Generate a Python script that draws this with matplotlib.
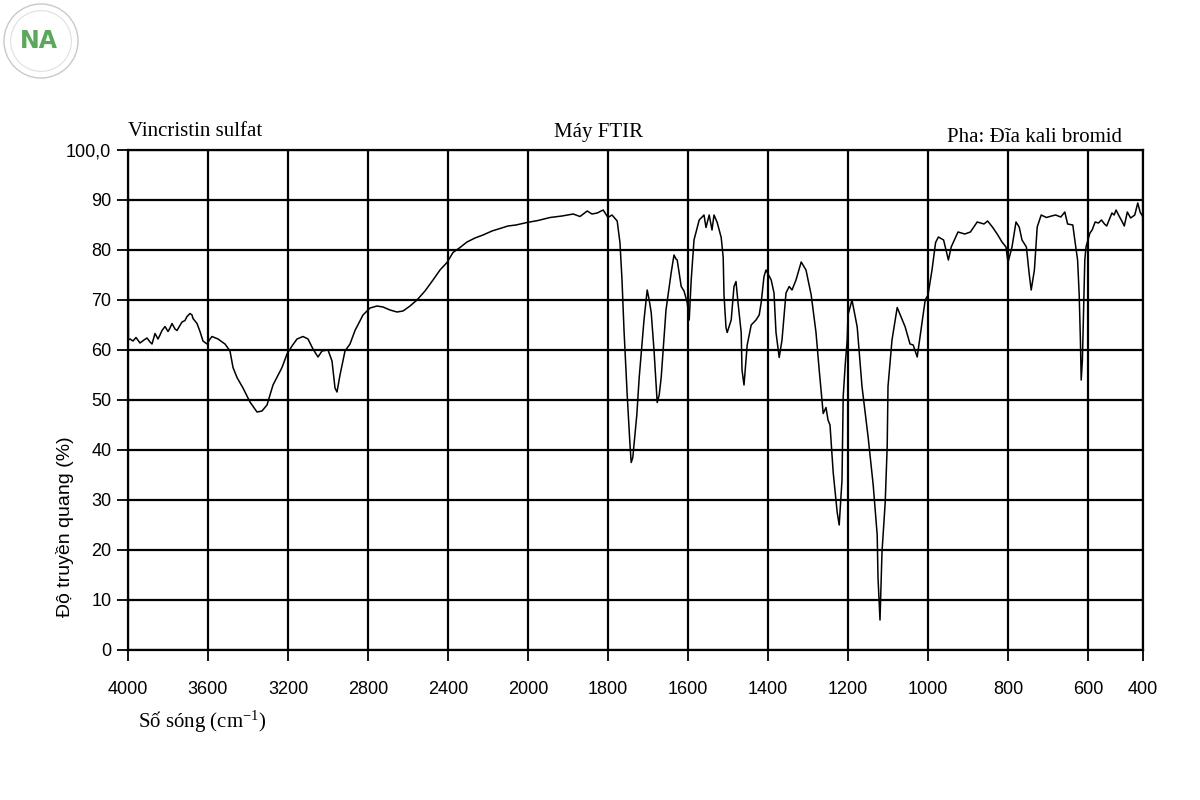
import numpy as np
import matplotlib
matplotlib.use("Agg")
import matplotlib.pyplot as plt
from matplotlib.patches import Circle

# FTIR spectrum (wavenumber cm-1, transmittance %)
wn = [4000, 3998, 3990, 3975, 3960, 3940, 3920, 3905, 3890, 3880,
      3865, 3850, 3840, 3830, 3815, 3800, 3790, 3780, 3765, 3755,
      3740, 3730, 3715, 3705, 3690, 3680, 3675, 3665, 3655, 3640,
      3625, 3605, 3590, 3580, 3550, 3515, 3490, 3475, 3455, 3425,
      3390, 3355, 3330, 3305, 3275, 3230, 3205, 3180, 3155, 3125,
      3100, 3075, 3050, 3030, 3000, 2980, 2965, 2955, 2940, 2915,
      2890, 2865, 2825, 2790, 2755, 2725, 2690, 2655, 2625, 2590,
      2555, 2515, 2475, 2440, 2405, 2375, 2340, 2305, 2265, 2225,
      2180, 2140, 2100, 2060, 2005, 1975, 1945, 1915, 1887, 1870,
      1852, 1840, 1827, 1812, 1800, 1790, 1777, 1770, 1765, 1760,
      1752, 1745, 1742, 1738, 1735, 1728, 1722, 1710, 1702, 1697,
      1692, 1685, 1677, 1672, 1667, 1655, 1642, 1635, 1630, 1627,
      1617, 1610, 1602, 1597, 1592, 1585, 1572, 1560, 1555, 1547,
      1540, 1535, 1527, 1517, 1512, 1510, 1505, 1502, 1492, 1485,
      1480, 1475, 1467, 1465, 1460, 1452, 1442, 1430, 1422, 1417,
      1410, 1405, 1392, 1385, 1380, 1372, 1365, 1355, 1347, 1340,
      1330, 1317, 1305, 1292, 1280, 1272, 1262, 1255, 1250, 1245,
      1237, 1227, 1222, 1215, 1212, 1207, 1202, 1200, 1190, 1177,
      1165, 1150, 1137, 1127, 1125, 1120, 1115, 1107, 1102, 1100,
      1090, 1077, 1057, 1045, 1037, 1027, 1020, 1007, 1000, 990,
      981, 974, 961, 949, 942, 925, 908, 894, 877, 860,
      851, 839, 827, 815, 805, 800, 790, 780, 772, 765,
      754, 747, 742, 734, 727, 717, 704, 691, 681, 668,
      658, 651, 638, 633, 626, 622, 619, 617, 614, 611,
      608, 605, 600, 593, 585, 574, 562, 551, 540, 532,
      522, 513, 505, 498, 487, 477, 468, 457, 445, 430,
      419, 410, 404, 400]
tr = [96, 62, 62.2, 61.8, 62.5, 61.4, 62.0, 62.4, 61.6, 61.2,
      63.3, 62.2, 63.0, 63.9, 64.7, 63.7, 64.4, 65.3, 64.2, 63.9,
      64.9, 65.6, 65.9, 66.7, 67.3, 67.0, 66.3, 65.8, 65.3, 63.7,
      61.8, 61.2, 62.2, 62.7, 62.2, 61.2, 59.8, 56.5, 54.5, 52.4,
      49.6, 47.6, 47.8, 49.0, 53.0, 56.5, 59.2, 60.8, 62.2, 62.7,
      62.2, 60.2, 58.6, 59.8, 60.0, 57.8, 52.4, 51.6, 55.0, 59.8,
      61.2, 63.9, 67.0, 68.4, 68.8, 68.6, 68.0, 67.6, 67.8, 68.8,
      70.0, 71.8, 74.0, 76.0, 77.5, 79.5, 80.5, 81.6, 82.4, 83.0,
      83.8, 84.3, 84.8, 85.0, 85.5, 85.9, 86.5, 86.8, 87.2, 86.7,
      87.8, 87.2, 87.4, 88.0, 86.5, 87.0, 85.8, 81.4, 74.0, 64.0,
      51.0, 41.0, 37.5, 38.5, 41.0, 47.0, 54.5, 66.0, 72.0, 70.0,
      67.5, 60.0, 49.5, 51.0, 54.5, 68.0, 75.5, 79.0, 78.2, 78.0,
      72.7, 71.8, 69.5, 66.0, 74.0, 82.0, 86.0, 87.0, 84.5, 87.0,
      84.0, 87.0, 85.5, 82.5, 78.5, 71.0, 64.5, 63.5, 66.0, 72.7,
      73.7, 69.5, 63.5, 56.0, 53.0, 61.0, 65.0, 66.0, 67.0, 69.5,
      74.7, 76.0, 74.0, 71.4, 63.5, 58.5, 62.0, 71.4, 72.7, 72.0,
      74.0, 77.6, 76.0, 71.0, 63.5, 56.0, 47.3, 48.5, 46.0, 45.0,
      35.5, 27.5, 25.0, 34.0, 50.7, 57.0, 62.0, 67.0, 70.0, 64.6,
      52.7, 42.8, 33.0, 23.0, 14.5, 6.0, 19.6, 29.5, 40.8, 52.7,
      62.0, 68.5, 64.6, 61.2, 61.0, 58.6, 62.6, 70.0, 71.0, 76.0,
      81.5, 82.6, 82.0, 78.0, 80.6, 83.6, 83.2, 83.6, 85.6, 85.2,
      85.8, 84.6, 83.2, 81.6, 80.6, 77.5, 80.6, 85.6, 84.6, 82.0,
      80.6, 75.2, 72.0, 76.0, 84.6, 87.0, 86.5, 86.8, 87.0, 86.6,
      87.6, 85.2, 85.0, 82.0, 78.0, 71.0, 62.0, 54.0, 58.0, 68.0,
      78.0, 80.6, 82.0, 83.4, 84.0, 85.6, 85.4, 86.0, 85.2, 84.8,
      86.2, 87.4, 87.0, 88.0, 86.8, 85.8, 84.8, 87.6, 86.4, 87.0,
      89.4, 87.5, 87.0, 86.5]

xticks = [4000, 3600, 3200, 2800, 2400, 2000, 1800, 1600, 1400, 1200, 1000, 800, 600, 400]
yticks = [0, 10, 20, 30, 40, 50, 60, 70, 80, 90, 100]
ylabels = ["0", "10", "20", "30", "40", "50", "60", "70", "80", "90", "100,0"]

# chart paper: half scale above 2000, last segment squeezed
brk_w = [400, 600, 2000, 4000]
brk_p = [0, 55, 615, 1015]


def fwd(w):
    return np.interp(w, brk_w, brk_p)


def inv(p):
    return np.interp(p, brk_p, brk_w)


plt.rcParams["mathtext.fontset"] = "custom"
plt.rcParams["mathtext.rm"] = "Liberation Serif"
plt.rcParams["mathtext.default"] = "rm"

sans = ["Liberation Sans Narrow", "Liberation Sans", "DejaVu Sans"]
serif = ["Liberation Serif", "DejaVu Serif"]

fig = plt.figure(figsize=(12, 8), dpi=100)
ax = fig.add_axes([128 / 1200, 1 - 650 / 800, (1143 - 128) / 1200, 500 / 800])
ax.set_xscale("function", functions=(fwd, inv))
ax.plot(wn, tr, color="black", lw=1.1)
ax.set_xlim(4000, 400)
ax.set_ylim(0, 100)

ax.set_xticks(xticks)
ax.set_xticklabels([str(t) for t in xticks], family=sans, fontsize=13)
ax.set_yticks(yticks)
ax.set_yticklabels(ylabels, family=sans, fontsize=13)
ax.minorticks_off()
ax.tick_params(direction="out", length=8, width=1.3, pad=14)
ax.tick_params(axis="y", pad=4)
ax.grid(True, color="black", lw=1.6)
for s in ax.spines.values():
    s.set_linewidth(1.6)

fig.text(128 / 1200, 1 - 131 / 800, "Vincristin sulfat", family=serif, fontsize=15, va="center")
fig.text(598 / 1200, 1 - 133 / 800, "Máy FTIR", family=serif, fontsize=15, va="center", ha="center")
fig.text(1122 / 1200, 1 - 137 / 800, "Pha: Đĩa kali bromid", family=serif, fontsize=15, va="center", ha="right")
fig.text(65 / 1200, 1 - 527 / 800, "Độ truyền quang (%)", family=sans, fontsize=14,
         rotation=90, va="center", ha="center")
fig.text(138 / 1200, 1 - 722 / 800, "Số sóng (cm$^{-1}$)", family=serif, fontsize=15, va="center")

# small logo in the corner
lg = fig.add_axes([2 / 1200, 1 - 80 / 800, 78 / 1200, 78 / 800])
lg.set_xlim(-1, 1)
lg.set_ylim(-1, 1)
lg.set_aspect("equal")
lg.axis("off")
lg.add_patch(Circle((0, 0), 0.95, fill=False, ec="#c9c9c9", lw=1))
lg.add_patch(Circle((0, 0), 0.78, fill=False, ec="#e0e0e0", lw=0.8))
lg.text(-0.05, 0.0, "NA", color="#5aa85a", fontsize=17, ha="center", va="center", fontweight="bold")

fig.savefig("out.png", dpi=100)
